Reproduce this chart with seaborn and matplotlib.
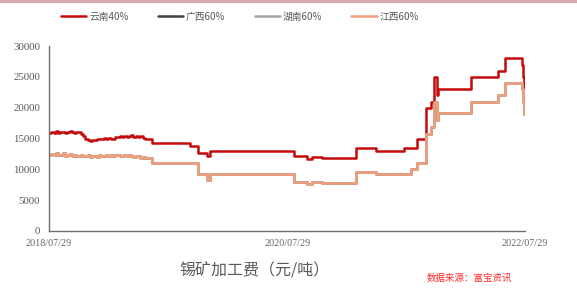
import numpy as np
import pandas as pd
import matplotlib
matplotlib.use("Agg")
import matplotlib.pyplot as plt
import seaborn as sns
from matplotlib.lines import Line2D
from matplotlib.patches import Rectangle

# ---------------- data ----------------
series_names = ["云南40%", "广西60%", "湖南60%", "江西60%"]
series_colors = ["#C40A0A", "#404040", "#A5A5A5", "#F2A07C"]

# weekly prices (noisy period) starting 2018-07-29
weekly_start = "2018-07-29"
weekly_yunnan = [15900, 16100, 15900, 16200, 15900, 16000, 16100, 15900, 16000, 16200,
                 16100, 15900, 16000, 16100, 15700, 15400, 15000, 14800, 14600, 14800,
                 14700, 14900, 15000, 14900, 15100, 15000, 15100, 15000, 14900, 15200,
                 15300, 15400, 15200, 15400, 15300, 15400, 15500, 15300, 15400, 15200,
                 15400, 15100, 15000, 15000, 15000, 15000]
weekly_jiangxi = [12300, 12500, 12300, 12600, 12300, 12400, 12600, 12200, 12300, 12500,
                  12200, 12300, 12100, 12200, 12400, 12100, 12200, 12300, 12000, 12100,
                  12200, 12000, 12300, 12100, 12200, 12400, 12200, 12300, 12200, 12400,
                  12300, 12100, 12200, 12400, 12100, 12300, 12200, 12000, 12100, 12200,
                  11900, 12000, 11900, 11800, 11900, 11800]

# later period: dates where the price changes
step_dates = ["2019-06-10", "2019-10-05", "2019-10-29", "2019-11-26", "2019-12-05",
              "2020-08-19", "2020-09-28", "2020-10-13", "2020-11-13", "2021-02-25",
              "2021-04-28", "2021-07-22", "2021-08-13", "2021-08-30", "2021-09-28",
              "2021-10-13", "2021-10-23", "2021-11-01", "2021-11-05", "2022-02-13",
              "2022-05-07", "2022-05-30", "2022-07-19", "2022-07-24", "2022-07-27",
              "2022-07-29"]
step_yunnan = [14300, 13800, 12700, 12200, 13000,
               12100, 11700, 12000, 11800, 13400,
               13000, 13500, 13500, 15000, 20000,
               21000, 25000, 22000, 23000, 25000,
               26000, 28000, 27000, 25000, 23000,
               23000]
step_jiangxi = [11000, 11000, 9200, 8300, 9200,
                8000, 7700, 8000, 7800, 9500,
                9200, 9200, 10100, 11000, 15800,
                16800, 21000, 18000, 19200, 21000,
                22000, 24000, 23000, 21000, 19000,
                19000]

x_ticks = ["2018-07-29", "2020-07-29", "2022-07-29"]
x_tick_labels = ["2018/07/29", "2020/07/29", "2022/07/29"]
y_ticks = [0, 5000, 10000, 15000, 20000, 25000, 30000]

dates = list(pd.date_range(weekly_start, periods=len(weekly_yunnan), freq="7D")) + \
        list(pd.to_datetime(step_dates))
yunnan_40 = weekly_yunnan + step_yunnan
jiangxi_60 = weekly_jiangxi + step_jiangxi
guangxi_60 = list(jiangxi_60)   # hidden under 江西60%
hunan_60 = list(jiangxi_60)     # hidden under 江西60%

values = [yunnan_40, guangxi_60, hunan_60, jiangxi_60]
df = pd.concat([pd.DataFrame({"date": dates, "value": v, "series": n})
                for n, v in zip(series_names, values)], ignore_index=True)

# ---------------- style ----------------
sns.set_style("white")
plt.rcParams["font.family"] = ["Noto Sans CJK SC", "DejaVu Sans"]

W, H = 577, 292
fig = plt.figure(figsize=(W / 100, H / 100), dpi=100)
fig.patch.set_facecolor("white")
ax = fig.add_axes([49 / W, 1 - 231 / H, (525 - 49) / W, (231 - 46) / H])

sns.lineplot(data=df, x="date", y="value", hue="series", hue_order=series_names,
             palette=series_colors, drawstyle="steps-post", linewidth=1.8,
             estimator=None, legend=False, ax=ax)

ax.set_xlim(pd.Timestamp("2018-07-29"), pd.Timestamp("2022-07-29"))
ax.set_ylim(0, 30000)
ax.set_xlabel("")
ax.set_ylabel("")
ax.set_xticks(pd.to_datetime(x_ticks))
ax.set_xticklabels(x_tick_labels)
ax.set_yticks(y_ticks)
ax.set_yticklabels([str(t) for t in y_ticks])

for lab in ax.get_xticklabels():
    lab.set_fontfamily("Liberation Serif")
    lab.set_fontsize(7.3)
    lab.set_color("#666666")
for lab in ax.get_yticklabels():
    lab.set_fontfamily("Liberation Serif")
    lab.set_fontsize(7.8)
    lab.set_color("#595959")

ax.tick_params(axis="both", direction="out", length=3, width=0.8, color="#595959")
ax.tick_params(axis="y", pad=3.5)
ax.tick_params(axis="x", pad=2.5)
for s in ["top", "right"]:
    ax.spines[s].set_visible(False)
for s in ["left", "bottom"]:
    ax.spines[s].set_color("#6F6F6F")
    ax.spines[s].set_linewidth(1.0)
ax.grid(False)

# legend
handles = [Line2D([0], [0], color=c, lw=1.8) for c in series_colors]
fig.legend(handles, series_names, loc="center", bbox_to_anchor=(240 / W, 1 - 16.7 / H),
           ncol=4, frameon=False, fontsize=7, handlelength=2.6, handletextpad=0.3,
           columnspacing=3.0, labelcolor="#595959")

# title and source
fig.text(255 / W, 1 - 271.5 / H, "锡矿加工费（元/吨）", ha="center", va="center",
         fontsize=11.5, color="#595959")
fig.text(469 / W, 1 - 278.3 / H, "数据来源：富宝资讯", ha="center", va="center",
         fontsize=6.8, color="#FF2A2A")

# top pink band
fig.patches.append(Rectangle((0, 1 - 2.5 / H), 1, 2.5 / H, transform=fig.transFigure,
                             facecolor="#DBA9A9", edgecolor="none"))

fig.savefig("out.png", dpi=100, facecolor="white")
